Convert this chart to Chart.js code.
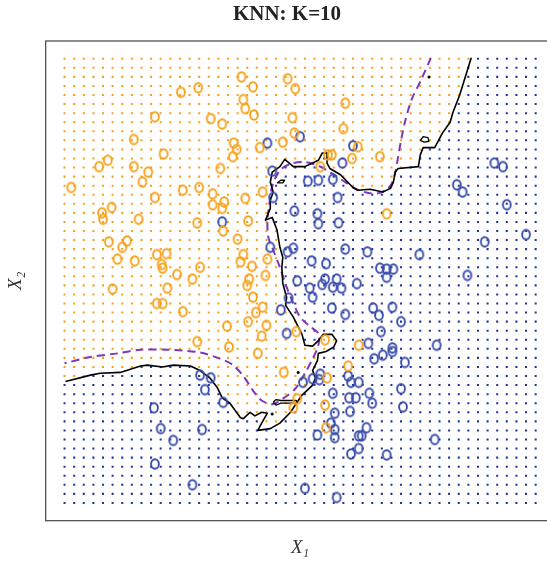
<!DOCTYPE html>
<html><head><meta charset="utf-8">
<script src="https://cdn.jsdelivr.net/npm/chart.js@4.4.1/dist/chart.umd.min.js"></script>
<style>html,body{margin:0;padding:0;overflow:hidden;background:#fff;width:547px;height:566px}</style>
</head><body>
<canvas id="c" width="574" height="566"></canvas>
<script>
const chartTitle = 'KNN: K=10';
const xLabel = 'X₁';
const yLabel = 'X₂';

// lattice of the classified grid (same steps on both axes)
const gridSteps = [0,0.1,0.2,0.3,0.4,0.5,0.6,0.7,0.8,0.9,1.0,1.1,1.2,1.3,1.4,1.5,1.6,1.7,1.8,1.9,2.0,2.1,2.2,2.3,2.4,2.5,2.6,2.7,2.8,2.9,3.0,3.1,3.2,3.3,3.4,3.5,3.6,3.7,3.8,3.9,4.0,4.1,4.2,4.3,4.4,4.5,4.6,4.7,4.8,4.9];

// training points, class "orange"
const orangeX = [1.84,1.21,1.39,1.86,0.94,1.52,1.64,0.72,1.76,1.79,1.75,1.03,0.45,0.36,0.72,0.87,1.62,0.81,0.07,1.23,1.40,1.54,0.94,1.96,2.32,2.40,1.88,1.97,2.92,2.37,2.90,2.39,2.27,2.03,2.74,2.78,3.05,2.99,3.28,2.66,2.06,1.54,1.66,1.64,0.49,0.39,0.40,0.77,1.38,1.65,1.80,0.46,0.60,0.65,0.96,1.06,1.01,1.02,0.55,0.73,1.83,1.86,1.17,1.41,1.33,0.50,1.07,0.96,1.02,1.23,1.69,1.38,1.71,1.91,1.88,3.35,1.95,2.11,2.09,1.92,1.90,1.96,2.06,1.99,1.91,2.10,2.05,2.41,2.71,3.06,2.01,2.28,2.95,2.73,2.42,2.38,2.71,2.72];
const orangeY = [4.70,4.53,4.58,4.45,4.26,4.24,4.18,4.01,3.97,3.90,3.82,3.85,3.78,3.71,3.71,3.65,3.69,3.54,3.48,3.45,3.48,3.41,3.37,4.59,4.68,4.57,4.35,4.28,4.41,4.25,4.13,4.08,3.98,3.92,3.84,3.84,3.93,3.80,3.82,3.71,3.43,3.29,3.32,3.25,3.26,3.20,3.13,3.13,3.09,3.00,2.91,2.88,2.82,2.89,2.74,2.75,2.63,2.59,2.69,2.67,2.66,2.74,2.52,2.60,2.47,2.36,2.37,2.20,2.20,2.11,1.95,1.78,1.72,3.11,3.36,3.19,2.61,2.69,2.51,2.47,2.40,2.27,2.16,2.10,2.00,1.96,1.84,1.89,1.80,1.74,1.65,1.44,1.51,1.38,1.15,1.05,1.08,0.83];

// training points, class "blue"
const blueX = [2.11,2.45,3.00,2.89,2.16,2.53,2.64,2.79,4.47,4.56,4.08,4.14,2.84,2.17,4.60,2.39,2.63,2.64,2.85,4.80,4.37,2.14,2.32,2.38,2.92,3.15,3.69,2.57,2.72,3.28,3.35,3.42,3.35,4.19,2.42,2.55,2.68,2.71,2.83,2.79,2.88,3.04,2.58,2.33,2.25,2.78,2.92,3.21,3.27,3.41,3.50,3.29,2.31,3.16,3.41,3.87,1.64,3.22,3.31,3.41,3.54,2.48,2.58,2.66,2.65,2.95,2.98,3.06,2.79,2.96,3.03,3.17,3.20,3.50,3.52,2.81,2.97,2.77,2.81,2.81,2.63,3.14,3.06,3.09,3.06,2.98,3.35,3.85,2.50,2.83,1.41,1.52,1.46,1.65,0.93,1.00,1.43,1.13,0.94,1.33];
const blueY = [3.97,4.04,3.94,3.75,3.66,3.55,3.56,3.57,3.75,3.71,3.51,3.43,3.37,3.37,3.29,3.22,3.19,3.08,3.09,2.96,2.88,2.82,2.77,2.81,2.80,2.77,2.74,2.67,2.64,2.59,2.58,2.58,2.49,2.51,2.45,2.37,2.41,2.47,2.47,2.38,2.37,2.42,2.27,2.26,2.13,2.15,2.08,2.15,2.07,2.16,2.00,1.89,1.87,1.76,1.71,1.74,3.10,1.59,1.63,1.67,1.55,1.33,1.37,1.42,1.36,1.40,1.33,1.33,1.21,1.16,1.16,1.21,1.10,1.26,1.06,0.99,1.01,0.88,0.81,0.72,0.75,0.83,0.74,0.74,0.60,0.54,0.53,0.70,0.16,0.06,1.41,1.38,1.25,1.11,1.05,0.82,0.81,0.69,0.43,0.20];

// KNN (K=10) decision boundary, from the left edge of the grid to its top edge
const boundaryX = [0.01,0.27,0.37,0.58,0.79,0.86,1.02,1.13,1.31,1.41,1.51,1.59,1.64,1.72,1.83,1.86,1.93,1.98,2.05,2.11,2.05,2.01,2.14,2.24,2.35,2.40,2.47,2.58,2.61,2.58,2.63,2.64,2.72,2.80,2.83,2.78,2.69,2.64,2.58,2.50,2.47,2.38,2.30,2.31,2.27,2.26,2.27,2.24,2.21,2.16,2.09,2.14,2.14,2.17,2.14,2.16,2.24,2.29,2.38,2.50,2.64,2.68,2.73,2.73,2.76,2.87,3.00,3.05,3.18,3.31,3.39,3.42,3.44,3.47,3.68,3.70,3.73,3.85,3.89,3.93,4.01,4.04,4.11,4.23];
const boundaryY = [1.34,1.41,1.43,1.44,1.51,1.52,1.50,1.52,1.51,1.46,1.38,1.27,1.16,1.10,0.94,0.93,1.00,0.96,1.00,0.99,0.88,0.80,0.82,0.88,1.00,1.08,1.19,1.30,1.38,1.46,1.57,1.65,1.67,1.72,1.79,1.86,1.86,1.79,1.73,1.74,1.86,2.05,2.18,2.27,2.42,2.60,2.71,2.82,3.01,3.15,3.12,3.25,3.34,3.43,3.54,3.65,3.71,3.79,3.71,3.71,3.78,3.86,3.86,3.75,3.69,3.62,3.48,3.45,3.46,3.43,3.47,3.54,3.65,3.69,3.71,3.84,3.92,3.92,4.00,4.08,4.20,4.31,4.50,4.91];

// small closed pieces of the KNN boundary
const islandAX = [3.70,3.73,3.78,3.79,3.74,3.70];
const islandAY = [4.00,4.04,4.03,3.99,3.98,4.00];
const islandBX = [2.21,2.25,2.29,2.27,2.21];
const islandBY = [3.53,3.56,3.56,3.53,3.53];
const islandCX = [2.17,2.20,2.25,2.41,2.42,2.25,2.20,2.17];
const islandCY = [1.11,1.14,1.13,1.13,1.10,1.10,1.08,1.11];
const specksX = [3.79,2.16,2.43];
const specksY = [4.70,0.98,1.44];

// Bayes decision boundary (dashed)
const bayesX = [3.81,3.71,3.61,3.54,3.50,3.47,3.44,3.39,3.28,3.16,3.02,2.89,2.76,2.64,2.50,2.38,2.26,2.19,2.15,2.13,2.11,2.12,2.17,2.24,2.31,2.38,2.45,2.55,2.64,2.64,2.58,2.50,2.40,2.27,2.16,2.05,1.96,1.86,1.74,1.62,1.41,1.07,0.79,0.55,0.27,0.00];
const bayesY = [4.91,4.67,4.45,4.20,4.00,3.82,3.65,3.50,3.42,3.42,3.47,3.56,3.65,3.72,3.76,3.75,3.69,3.58,3.45,3.29,3.12,2.93,2.79,2.60,2.38,2.20,2.05,1.95,1.87,1.74,1.59,1.43,1.26,1.15,1.09,1.13,1.24,1.40,1.53,1.59,1.66,1.69,1.69,1.65,1.61,1.54];

const ORANGE = '#F7A11A', BLUE_PT = '#3A4CAB', BLUE_GRID = '#22369A', PURPLE = '#7D37B9';

const pts = (xs, ys) => xs.map((x, i) => ({x, y: ys[i]}));

// orange region = upper-left side of the KNN boundary
const polyX = boundaryX.concat([boundaryX[boundaryX.length-1], -1, -1]);
const polyY = boundaryY.concat([6, 6, boundaryY[0]]);
function inPoly(x, y, px, py) {
  let c = false;
  for (let i = 0, j = px.length - 1; i < px.length; j = i++) {
    if ((py[i] > y) !== (py[j] > y) && x < (px[j]-px[i])*(y-py[i])/(py[j]-py[i]) + px[i]) c = !c;
  }
  return c;
}
const gridO = [], gridB = [];
for (const gx of gridSteps) for (const gy of gridSteps) {
  (inPoly(gx, gy, polyX, polyY) ? gridO : gridB).push({x: gx, y: gy});
}

function ring(color) {
  const c = document.createElement('canvas');
  c.width = 16; c.height = 18;
  const g = c.getContext('2d');
  g.strokeStyle = color; g.lineWidth = 1.9;
  g.beginPath(); g.ellipse(8, 9, 3.9, 4.8, 0, 0, Math.PI*2); g.stroke();
  return c;
}

const lineDs = (data, extra) => Object.assign({data, showLine: true, pointRadius: 0, borderColor: '#000', borderWidth: 1.6, fill: false, tension: 0, borderJoinStyle: 'round', order: 1}, extra || {});

const framePlugin = {
  id: 'frame',
  afterDraw(chart) {
    const a = chart.chartArea, ctx = chart.ctx;
    ctx.save(); ctx.strokeStyle = '#444'; ctx.lineWidth = 1.2;
    ctx.strokeRect(a.left, a.top, a.right - a.left, a.bottom - a.top);
    ctx.restore();
  }
};

const serif = "'Liberation Serif','DejaVu Serif',serif";
const hiddenAxis = {grid: {display: false, drawTicks: false}, border: {display: false}, ticks: {display: false}};
new Chart(document.getElementById('c'), {
  type: 'scatter',
  data: {datasets: [
    {data: pts(orangeX, orangeY), pointStyle: ring(ORANGE), pointRadius: 4, order: 0},
    {data: pts(blueX, blueY), pointStyle: ring(BLUE_PT), pointRadius: 4, order: 0},
    lineDs(pts(boundaryX, boundaryY)),
    lineDs(pts(islandAX, islandAY), {borderWidth: 1.3}),
    lineDs(pts(islandBX, islandBY), {borderWidth: 1.3}),
    lineDs(pts(islandCX, islandCY), {borderWidth: 1.3}),
    {data: pts(specksX, specksY), pointRadius: 1.5, pointBackgroundColor: '#000', pointBorderWidth: 0, order: 1},
    lineDs(pts(bayesX, bayesY), {borderColor: PURPLE, borderWidth: 2, borderDash: [8, 5], tension: 0.3, borderCapStyle: 'butt'}),
    {data: gridO, pointStyle: 'rect', pointRadius: 1.45, pointBackgroundColor: ORANGE, pointBorderWidth: 0, order: 2},
    {data: gridB, pointStyle: 'rect', pointRadius: 1.45, pointBackgroundColor: BLUE_GRID, pointBorderWidth: 0, order: 2}
  ]},
  options: {
    responsive: false, animation: false, events: [],
    layout: {padding: 0},
    plugins: {
      legend: {display: false}, tooltip: {enabled: false},
      title: {display: true, text: chartTitle, color: '#222',
        font: {family: serif, size: 21, weight: 'bold', lineHeight: 1.2},
        padding: {top: 1.5, bottom: 14.3}}
    },
    scales: {
      x: Object.assign({type: 'linear', min: -0.196, max: 5.096,
        title: {display: true, text: xLabel, color: '#333', font: {family: serif, size: 19, style: 'italic', lineHeight: 1.2}, padding: {top: 15.9, bottom: 6.6}}}, hiddenAxis),
      y: Object.assign({type: 'linear', min: -0.196, max: 5.096,
        title: {display: true, text: yLabel, color: '#333', font: {family: serif, size: 19, style: 'italic', lineHeight: 1.2}, padding: {top: 5, bottom: 17.9}}}, hiddenAxis),
      yRight: Object.assign({type: 'linear', position: 'right', display: true, min: 0, max: 1,
        title: {display: true, text: '', font: {size: 10, lineHeight: 1}, padding: {top: 4.75, bottom: 4.75}}}, hiddenAxis)
    }
  },
  plugins: [framePlugin]
});
</script>
</body></html>
